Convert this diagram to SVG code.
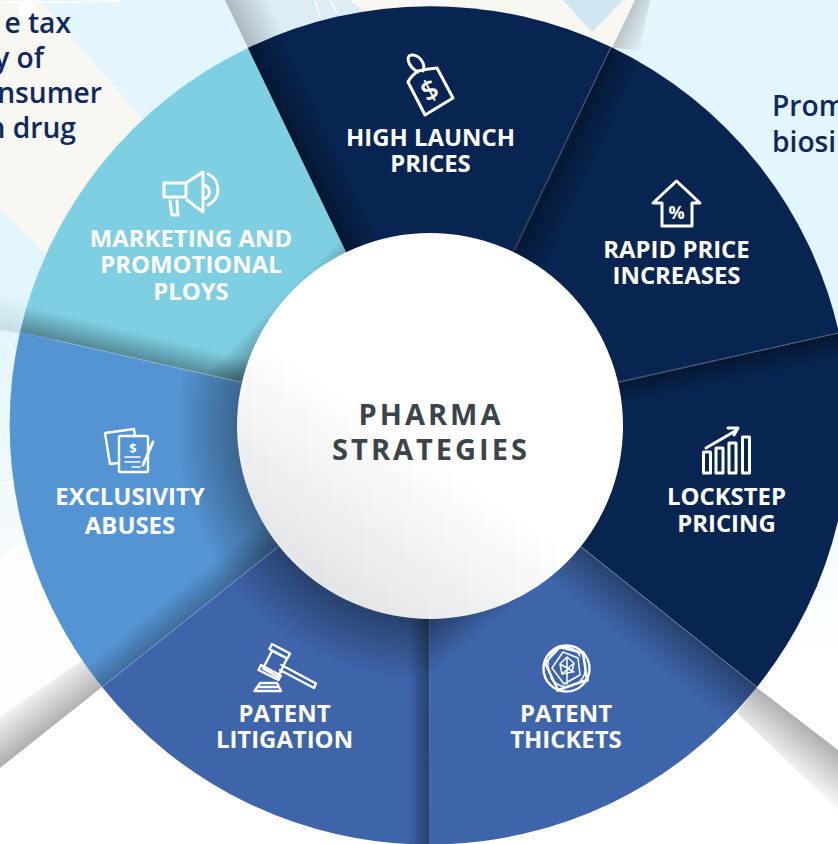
<svg xmlns="http://www.w3.org/2000/svg" width="838" height="844" viewBox="0 0 838 844">
<style>
text{font-family:"Open Sans","Noto Sans","Liberation Sans",sans-serif}
.lab{font-weight:700;font-size:23.900px;fill:#fff;text-anchor:middle}
.ctr{font-weight:700;font-size:29px;fill:#3c444a;text-anchor:middle;letter-spacing:3px}
.bg{font-weight:600;font-size:28.200px;fill:#10295a}
.ic{fill:none;stroke:#fff;stroke-width:3;stroke-linejoin:round;stroke-linecap:round}
.ic2{fill:none;stroke:#fff;stroke-width:2.400;stroke-linejoin:round;stroke-linecap:round}
.ic3{fill:none;stroke:#fff;stroke-width:1.500;stroke-linejoin:round;stroke-linecap:round}
.sep{stroke:#fff;stroke-opacity:.3;stroke-width:.8;fill:none}
</style>
<defs>
<path id="s1" d="M429.5 425.5L248 48A419 419 0 0 1 611 47Z"/>
<path id="s2" d="M429.5 425.5L611 47A419 419 0 0 1 839 333Z"/>
<path id="s3" d="M429.5 425.5L839 333A419 419 0 0 1 757 687Z"/>
<path id="s4" d="M429.5 425.5L757 687A419 419 0 0 1 429 844.5Z"/>
<path id="s5" d="M429.5 425.5L429 844.5A419 419 0 0 1 102 687Z"/>
<path id="s6" d="M429.5 425.5L102 687A419 419 0 0 1 20 332Z"/>
<path id="s7" d="M429.5 425.5L20 332A419 419 0 0 1 248 48Z"/>
<linearGradient id="g1" gradientUnits="userSpaceOnUse" x1="297" y1="150" x2="330" y2="134"><stop offset="0" stop-opacity=".38"/><stop offset="1" stop-opacity="0"/></linearGradient>
<linearGradient id="g2" gradientUnits="userSpaceOnUse" x1="563" y1="148" x2="595" y2="163"><stop offset="0" stop-opacity=".38"/><stop offset="1" stop-opacity="0"/></linearGradient>
<linearGradient id="g3" gradientUnits="userSpaceOnUse" x1="728" y1="358" x2="733" y2="382"><stop offset="0" stop-opacity=".38"/><stop offset="1" stop-opacity="0"/></linearGradient>
<linearGradient id="g4a" gradientUnits="userSpaceOnUse" x1="668" y1="617" x2="640" y2="652"><stop offset="0" stop-opacity=".34"/><stop offset="1" stop-opacity="0"/></linearGradient>
<linearGradient id="g4b" gradientUnits="userSpaceOnUse" x1="505" y1="613" x2="480" y2="582"><stop offset="0" stop-opacity="0"/><stop offset="1" stop-opacity=".38"/></linearGradient>
<linearGradient id="g5" gradientUnits="userSpaceOnUse" x1="429" y1="700" x2="408" y2="700"><stop offset="0" stop-opacity=".35"/><stop offset="1" stop-opacity="0"/></linearGradient>
<linearGradient id="g6" gradientUnits="userSpaceOnUse" x1="190" y1="617" x2="172" y2="595"><stop offset="0" stop-opacity=".28"/><stop offset="1" stop-opacity="0"/></linearGradient>
<linearGradient id="g7" gradientUnits="userSpaceOnUse" x1="130" y1="357" x2="136" y2="332"><stop offset="0" stop-opacity=".34"/><stop offset="1" stop-opacity="0"/></linearGradient>
<linearGradient id="g7b" gradientUnits="userSpaceOnUse" x1="232" y1="346" x2="250" y2="364"><stop offset="0" stop-opacity="0"/><stop offset="1" stop-opacity=".3"/></linearGradient>
<radialGradient id="rs" gradientUnits="userSpaceOnUse" cx="430" cy="426" r="255"><stop offset=".75" stop-opacity=".36"/><stop offset="1" stop-opacity="0"/></radialGradient>
<linearGradient id="core" gradientUnits="userSpaceOnUse" x1="520" y1="300" x2="320" y2="590"><stop offset="0" stop-color="#fff"/><stop offset=".5" stop-color="#fff"/><stop offset="1" stop-color="#e3e4e6"/></linearGradient>
<linearGradient id="bandR" gradientUnits="userSpaceOnUse" x1="797" y1="718" x2="766" y2="757"><stop offset="0" stop-color="#adafb0"/><stop offset="1" stop-color="#fff"/></linearGradient>
<linearGradient id="bandL" gradientUnits="userSpaceOnUse" x1="51" y1="727" x2="24" y2="691"><stop offset="0" stop-color="#b0b1b1"/><stop offset="1" stop-color="#fdfdfb"/></linearGradient>
<linearGradient id="bandT" gradientUnits="userSpaceOnUse" x1="236" y1="24" x2="272" y2="7"><stop offset="0" stop-color="#a9b8bd"/><stop offset="1" stop-color="#dcedf4"/></linearGradient>
<linearGradient id="bandT2" gradientUnits="userSpaceOnUse" x1="624" y1="24" x2="650" y2="36"><stop offset="0" stop-color="#bcc6c9"/><stop offset="1" stop-color="#e3f6fd"/></linearGradient>
<linearGradient id="fadeR" x1="0" y1="0" x2="0" y2="1"><stop offset="0" stop-color="#e3f6fd"/><stop offset="1" stop-color="#fff"/></linearGradient>
<linearGradient id="fadeL" x1="0" y1="0" x2="0" y2="1"><stop offset="0" stop-color="#e3f6fd"/><stop offset="1" stop-color="#f7fbfb"/></linearGradient>
<linearGradient id="band7" gradientUnits="userSpaceOnUse" x1="10" y1="335" x2="18" y2="295"><stop offset="0" stop-color="#9fb9c4" stop-opacity=".45"/><stop offset="1" stop-color="#9fb9c4" stop-opacity="0"/></linearGradient>
</defs>

<g id="background">
<rect width="838" height="844" fill="#fff"/>
<rect width="838" height="345" fill="#e3f6fd"/>
<rect x="600" y="340" width="238" height="330" fill="url(#fadeR)"/>
<rect x="0" y="340" width="120" height="220" fill="url(#fadeL)"/>
<polygon points="0,0 40,0 160,140 60,270 0,207" fill="#f8f7f2"/>
<polygon points="0,290 60,290 60,340 0,330" fill="url(#band7)"/>
<polygon points="0,557 70,510 120,640 83,660 0,717" fill="#fdfdfb"/>
<polygon points="0,768 0,717 83,660 102,687" fill="url(#bandL)"/>
<polygon points="756,687 838,750 838,810 737,713" fill="url(#bandR)"/>
<polygon points="225,0 248,48 310,40 300,0" fill="url(#bandT)"/>
<polygon points="295,0 350,0 400,30 295,40" fill="#dcedf4"/>
<polygon points="350,0 563,0 592,32 623,0 635,0 612,60 400,40" fill="#f8f7f2"/>
<polygon points="563,0 592,32 623,0" fill="#cfe6f0"/>
<polygon points="635,0 650,0 640,50 612,48" fill="url(#bandT2)"/>
<g fill="none" stroke="#fff" stroke-width="1.5">
<path d="M0 3L120 1M315 0L320 18M330 0L338 14M7 340L17 357M0 483L15 483"/>
</g>
<circle cx="28" cy="10" r="10" fill="#fff"/>
<text class="bg" x="71" y="33" text-anchor="end">e tax</text>
<text class="bg" x="44" y="68" text-anchor="end">y of</text>
<text class="bg" x="102" y="103" text-anchor="end">nsumer</text>
<text class="bg" x="76" y="138" text-anchor="end">n drug</text>
<text class="bg" x="772" y="116">Prom</text>
<text class="bg" x="772" y="152">biosi</text>
</g>

<g id="node-marketing">
<use href="#s7" fill="#7fcfe3"/>
<use href="#s7" fill="url(#g7)"/>
<use href="#s7" fill="url(#g7b)"/>
<path class="ic" d="M164 183H186V197H164ZM186 183L203 172V212L187 200M170 201L172 215H178L177 201M205 185.500A7 7 0 0 1 205 198.500M208 174A17 17 0 0 1 208 205"/>
<text class="lab" x="191" y="247">MARKETING AND</text>
<text class="lab" x="191" y="273">PROMOTIONAL</text>
<text class="lab" x="191" y="300">PLOYS</text>
</g>

<g id="node-launch">
<use href="#s1" fill="#082551"/>
<use href="#s1" fill="url(#g1)"/>
<path class="ic" d="M418 71Q426 69 437 68L453 98L425 115L408 82Q411 76 418 71ZM418 72C407 66 405 54 413 55C420 56 426 64 423 71" stroke-width="3.400"/>
<text x="430" y="100" font-size="28" font-weight="600" fill="#fff" text-anchor="middle" transform="rotate(-27 430 91)">$</text>
<text class="lab" x="430.500" y="146">HIGH LAUNCH</text>
<text class="lab" x="430.500" y="172">PRICES</text>
</g>

<g id="node-rapid">
<use href="#s2" fill="#082551"/>
<use href="#s2" fill="url(#g2)"/>
<path class="ic" d="M676.500 181L653 203H662V226H692V203H700Z"/>
<text x="676.500" y="219" font-size="18" font-weight="700" fill="#fff" text-anchor="middle">%</text>
<text class="lab" x="676.500" y="258">RAPID PRICE</text>
<text class="lab" x="676.500" y="284">INCREASES</text>
</g>

<g id="node-lockstep">
<use href="#s3" fill="#082551"/>
<use href="#s3" fill="url(#g3)"/>
<path class="ic" d="M703.500 452H710.500V473H703.500ZM716 448H723V473H716ZM729 443H736V473H729ZM742.500 437H749.500V473H742.500Z" stroke-width="2.600"/>
<path class="ic" d="M706 448L737 430M728 428L738 428L734 435"/>
<text class="lab" x="726.500" y="505">LOCKSTEP</text>
<text class="lab" x="726.500" y="532">PRICING</text>
</g>

<g id="node-thickets">
<use href="#s4" fill="#3e65aa"/>
<use href="#s4" fill="url(#g4a)"/>
<use href="#s4" fill="url(#g4b)"/>
<circle class="ic2" cx="566.500" cy="668.500" r="23"/>
<path class="ic3" d="M550 672A17 17 0 0 1 580 656M584 660A19 19 0 0 1 578 683M572 686A19 19 0 0 1 551 678"/>
<path class="ic2" d="M545 663L560 647L583 653L587 680L558 690Z"/>
<path class="ic3" d="M552 668L563 652L578 658L580 675L564 684ZM560 664L567 657L574 663L572 672L562 674ZM560 664L574 672M574 663L562 674M567 657L567 684"/>
<g fill="#fff"><circle cx="545" cy="663" r="2"/><circle cx="560" cy="647" r="2"/><circle cx="583" cy="653" r="2"/><circle cx="587" cy="680" r="2"/><circle cx="558" cy="690" r="2"/></g>
<text class="lab" x="566" y="722">PATENT</text>
<text class="lab" x="566" y="748">THICKETS</text>
</g>

<g id="node-litigation">
<use href="#s5" fill="#3e65aa"/>
<use href="#s5" fill="url(#rs)"/>
<use href="#s5" fill="url(#g5)"/>
<path class="ic2" d="M272 644L290 653.500L287.500 658.500L269.500 649ZM272 651L287 658.500L278 677L263 668.500ZM261 665L281 675.500L278.500 680L258.500 670ZM281.500 665L316 683.500L314 688L280 670"/>
<path class="ic2" d="M260 683H277L281 691H254.500Z M259 687H277"/>
<text class="lab" x="284.500" y="722">PATENT</text>
<text class="lab" x="284.500" y="748">LITIGATION</text>
</g>

<g id="node-exclusivity">
<use href="#s6" fill="#5594d3"/>
<use href="#s6" fill="url(#g6)"/>
<use href="#s6" fill="url(#rs)" opacity=".9"/>
<path class="ic2" d="M118 463L110 464L105 433L134 429L135 436"/>
<rect class="ic2" x="119" y="436" width="29" height="36" rx="1"/>
<path class="ic3" d="M125 457H140M125 462H140M132 467H140" stroke-width="2"/>
<path class="ic" d="M143 465L153 442"/>
<text x="133" y="453" font-size="13" font-weight="700" fill="#fff" text-anchor="middle">$</text>
<text class="lab" x="130" y="505">EXCLUSIVITY</text>
<text class="lab" x="130" y="534">ABUSES</text>
</g>

<path class="sep" d="M515 250L611 47M618 382L838 333M278 547L102 687M241 382L55 340M581 547L757 687"/>

<g id="node-center">
<circle cx="430" cy="426" r="193" fill="url(#core)"/>
<text class="ctr" x="431" y="425">PHARMA</text>
<text class="ctr" x="431" y="460">STRATEGIES</text>
</g>
</svg>
